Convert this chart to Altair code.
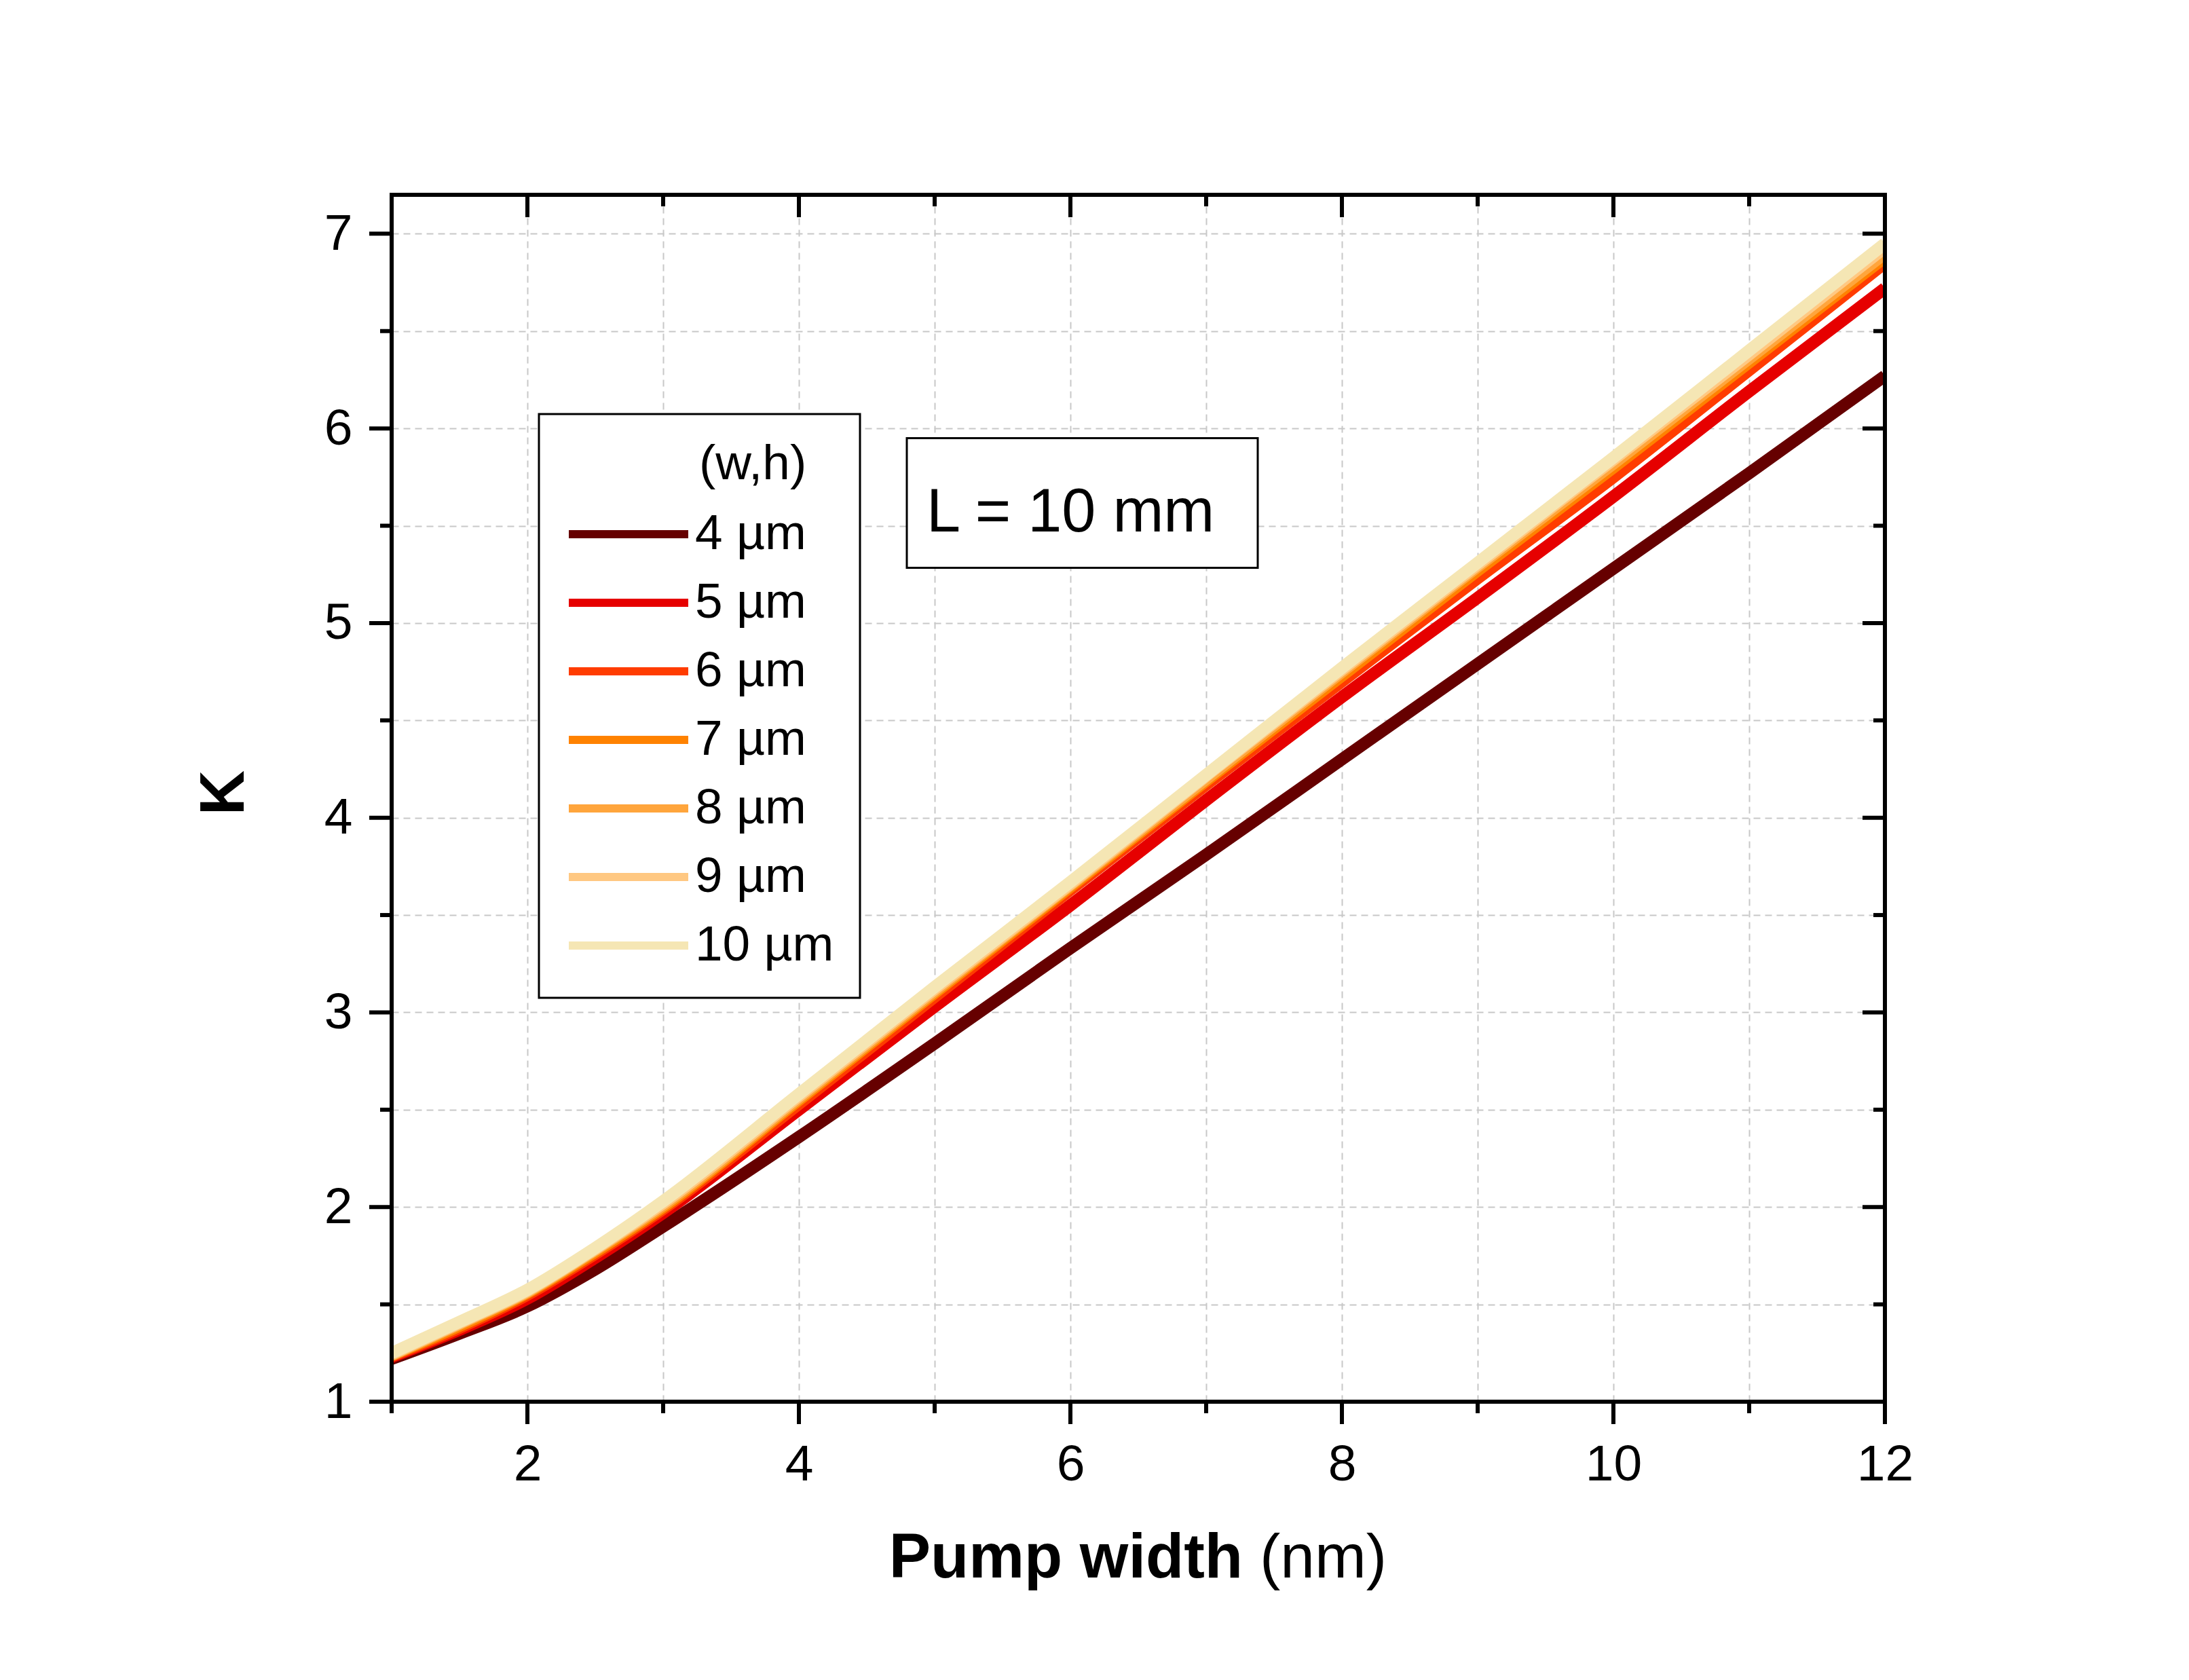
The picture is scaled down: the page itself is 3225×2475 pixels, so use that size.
import altair as alt
import pandas as pd

# ---------------- data ----------------
pump_width = [1, 1.5, 2, 2.5, 3, 4, 5, 6, 7, 8, 9, 10, 11, 12]
series_labels = ["4 µm", "5 µm", "6 µm", "7 µm", "8 µm", "9 µm", "10 µm"]
series_colors = ["#660000", "#e60000", "#ff3c00", "#ff8200", "#ffa53c", "#ffc882", "#f5e6b4"]

k_4 = [1.22, 1.35, 1.49, 1.68, 1.90, 2.36, 2.84, 3.33, 3.81, 4.30, 4.79, 5.28, 5.77, 6.27]
k_5 = [1.23, 1.37, 1.53, 1.74, 1.97, 2.50, 3.03, 3.55, 4.09, 4.62, 5.13, 5.65, 6.19, 6.72]
k_6 = [1.235, 1.38, 1.55, 1.76, 1.99, 2.53, 3.08, 3.63, 4.17, 4.70, 5.23, 5.75, 6.30, 6.85]
k_7 = [1.24, 1.39, 1.56, 1.77, 2.00, 2.55, 3.10, 3.645, 4.19, 4.73, 5.27, 5.80, 6.34, 6.88]
k_8 = [1.24, 1.40, 1.565, 1.78, 2.01, 2.56, 3.11, 3.655, 4.20, 4.75, 5.29, 5.82, 6.36, 6.90]
k_9 = [1.245, 1.405, 1.57, 1.785, 2.02, 2.57, 3.12, 3.66, 4.215, 4.76, 5.30, 5.84, 6.38, 6.93]
k_10 = [1.25, 1.41, 1.575, 1.79, 2.03, 2.58, 3.13, 3.67, 4.22, 4.77, 5.31, 5.85, 6.40, 6.95]
k_values = [k_4, k_5, k_6, k_7, k_8, k_9, k_10]

x_ticks_all = [1, 2, 3, 4, 5, 6, 7, 8, 9, 10, 11, 12]
x_ticks_major = [2, 4, 6, 8, 10, 12]
x_ticks_minor = [1, 3, 5, 7, 9, 11]
y_ticks_all = [1, 1.5, 2, 2.5, 3, 3.5, 4, 4.5, 5, 5.5, 6, 6.5, 7]
y_ticks_major = [1, 2, 3, 4, 5, 6, 7]
y_ticks_minor = [1.5, 2.5, 3.5, 4.5, 5.5, 6.5]

annotation_text = "L = 10 mm"
box_x = [4.795, 7.38]
box_y = [5.284, 5.95]
text_pos = [4.94, 5.47]

x_title_bold = "Pump width"
x_title_unit = "(nm)"
y_title = "K"
legend_title = "(w,h)"

# ---------------- build table ----------------
rows = []
for lab, ks in zip(series_labels, k_values):
    for x, k in zip(pump_width, ks):
        rows.append({"series": lab, "x": x, "k": k})
df = pd.DataFrame(rows)

W, H = 2200, 1778
FONT = "Liberation Sans"
TW = 6  # tick / frame width

x_scale = alt.Scale(domain=[1, 12], nice=False, zero=False)
y_scale = alt.Scale(domain=[1, 7.2], nice=False, zero=False)

# axes: grid + labels only; every tick is drawn as a rule layer below
x_axis = alt.Axis(
    values=x_ticks_all, title=None, domain=False, ticks=False,
    grid=True, gridDash=[10, 7], gridColor="#c8c8c8", gridWidth=2,
    labelExpr="datum.value % 2 == 0 ? '' + datum.value : ''",
    labelFontSize=75, labelPadding=56, labelFlush=False, labelOverlap=False,
    labelColor="black", labelFont=FONT, orient="bottom",
)
y_axis = alt.Axis(
    values=y_ticks_all, title=None, domain=False, ticks=False,
    grid=True, gridDash=[10, 7], gridColor="#c8c8c8", gridWidth=2,
    labelExpr="datum.value % 1 == 0 ? '' + datum.value : ''",
    labelFontSize=75, labelPadding=58, labelFlush=False, labelOverlap=False,
    labelColor="black", labelFont=FONT, orient="left",
)


def X(field):
    return alt.X(field, scale=x_scale, axis=x_axis)


def Y(field):
    return alt.Y(field, scale=y_scale, axis=y_axis)


legend = alt.Legend(
    title=legend_title, orient="none", legendX=217, legendY=323,
    direction="vertical",
    fillColor="white", strokeColor="black", padding=38,
    titleFontSize=73, titleFontWeight="normal", titleFont=FONT, titleColor="black",
    titlePadding=27, titleAnchor="middle", titleAlign="left",
    symbolType="stroke", symbolSize=176 * 176, symbolStrokeWidth=12,
    labelFontSize=73, labelFont=FONT, labelColor="black", labelOffset=4, labelLimit=1000,
    clipHeight=78, rowPadding=23,
)

lines = alt.Chart(df).mark_line(strokeWidth=18, interpolate="monotone", clip=True).encode(
    x=X("x:Q"),
    y=Y("k:Q"),
    color=alt.Color("series:N", scale=alt.Scale(domain=series_labels, range=series_colors),
                    legend=legend, sort=series_labels),
)

box_df = pd.DataFrame({"x1": [box_x[0]], "x2": [box_x[1]], "y1": [box_y[0]], "y2": [box_y[1]]})
box = alt.Chart(box_df).mark_rect(fill="white", stroke="black", strokeWidth=3).encode(
    x=X("x1:Q"), x2="x2:Q", y=Y("y1:Q"), y2="y2:Q",
)

txt_df = pd.DataFrame({"x": [text_pos[0]], "y": [text_pos[1]], "t": [annotation_text]})
box_text = alt.Chart(txt_df).mark_text(
    align="left", baseline="alphabetic", fontSize=90, font=FONT, color="black"
).encode(x=X("x:Q"), y=Y("y:Q"), text="t:N")

tick_style = dict(color="black", strokeWidth=TW)


def vticks(values, y0, y1):
    return alt.Chart(pd.DataFrame({"v": values})).mark_rule(**tick_style).encode(
        x=X("v:Q"), y=alt.value(y0), y2=alt.value(y1))


def hticks(values, x0, x1):
    return alt.Chart(pd.DataFrame({"v": values})).mark_rule(**tick_style).encode(
        y=Y("v:Q"), x=alt.value(x0), x2=alt.value(x1))


tick_layers = [
    vticks(x_ticks_major, H, H + 33),   # bottom, outward
    vticks(x_ticks_minor, H, H + 17),
    vticks(x_ticks_major, 0, 33),       # top, inward
    vticks(x_ticks_minor, 0, 17),
    hticks(y_ticks_major, 0, -33),      # left, outward
    hticks(y_ticks_minor, 0, -17),
    hticks(y_ticks_major, W, W - 33),   # right, inward
    hticks(y_ticks_minor, W, W - 17),
]

one = pd.DataFrame({"a": [0]})
frame = alt.Chart(one).mark_rect(fillOpacity=0, stroke="black", strokeWidth=TW).encode(
    x=alt.value(0), x2=alt.value(W), y=alt.value(0), y2=alt.value(H))

xt_bold = alt.Chart(one).mark_text(
    text=x_title_bold, align="right", baseline="alphabetic", fontSize=92, fontWeight="bold",
    font=FONT, color="black").encode(x=alt.value(1254), y=alt.value(2037))
xt_unit = alt.Chart(one).mark_text(
    text=x_title_unit, align="left", baseline="alphabetic", fontSize=91, fontWeight="normal",
    font=FONT, color="black").encode(x=alt.value(1279), y=alt.value(2037))
yt = alt.Chart(one).mark_text(
    text=y_title, angle=270, align="center", baseline="middle", fontSize=92, fontWeight="bold",
    font=FONT, color="black").encode(x=alt.value(-246), y=alt.value(881))

chart = alt.layer(
    lines, box, box_text, *tick_layers, frame, xt_bold, xt_unit, yt,
).properties(
    width=W, height=H,
    autosize=alt.AutoSizeParams(type="none"),
    padding={"left": 569, "top": 279, "right": 400, "bottom": 350},
).configure(
    font=FONT
).configure_view(
    stroke="transparent"
).configure_legend(
    strokeWidth=3
)

chart.save("out.html", embed_options={"renderer": "svg", "actions": False})
